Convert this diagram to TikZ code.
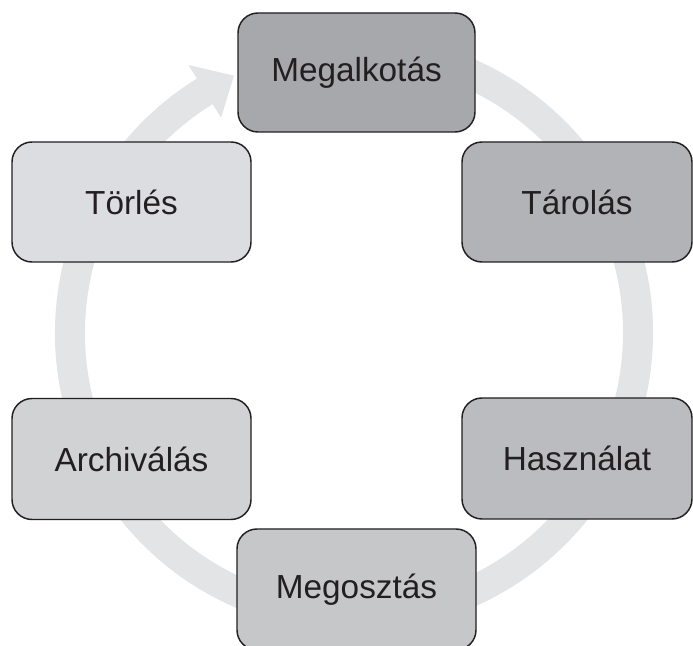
\documentclass[tikz,border=0pt]{standalone}
\usepackage{fontspec}
\setmainfont{Liberation Sans}
\usetikzlibrary{calc}
\definecolor{ringc}{HTML}{E3E4E6}
\definecolor{txt}{HTML}{231F20}
\definecolor{c1}{HTML}{A7A8AB}
\definecolor{c2}{HTML}{B2B3B6}
\definecolor{c3}{HTML}{BBBCBF}
\definecolor{c4}{HTML}{C6C7C9}
\definecolor{c5}{HTML}{D1D2D4}
\definecolor{c6}{HTML}{DCDDE0}
\begin{document}
\begin{tikzpicture}[x=0.75pt,y=0.75pt,
  stagebox/.style={draw=txt, line width=1.1pt, rounded corners=15pt, text=txt,
    font=\fontsize{25}{29}\selectfont, inner sep=0pt}]
\useasboundingbox (0,0) rectangle (693,646);
\coordinate (C) at (354,313);
% circular arrow
\fill[ringc] ($(C)+(80:299)$) arc[start angle=80, end angle=-238.3, radius=299]
  -- ($(C)+(121.7:315)$) -- ($(C)+(115:284)$) -- ($(C)+(121.7:253)$)
  -- ($(C)+(121.7:269)$) arc[start angle=-238.3, end angle=80, radius=269] -- cycle;
% stages
\node[stagebox, fill=c1, minimum width=177.75pt, minimum height=89.25pt] (create) at (356.5,573.5) {Megalkotás};
\node[stagebox, fill=c2, minimum width=172.5pt, minimum height=90pt] (store) at (577,444) {Tárolás};
\node[stagebox, fill=c3, minimum width=172.5pt, minimum height=90.75pt] (use) at (577,187.5) {Használat};
\node[stagebox, fill=c4, minimum width=179.25pt, minimum height=90.75pt] (share) at (356.5,56.5) {Megosztás};
\node[stagebox, fill=c5, minimum width=179.25pt, minimum height=90.75pt] (archive) at (131.5,187) {Archiválás};
\node[stagebox, fill=c6, minimum width=179.25pt, minimum height=90pt] (delete) at (131.5,444) {Törlés};
\end{tikzpicture}
\end{document}
